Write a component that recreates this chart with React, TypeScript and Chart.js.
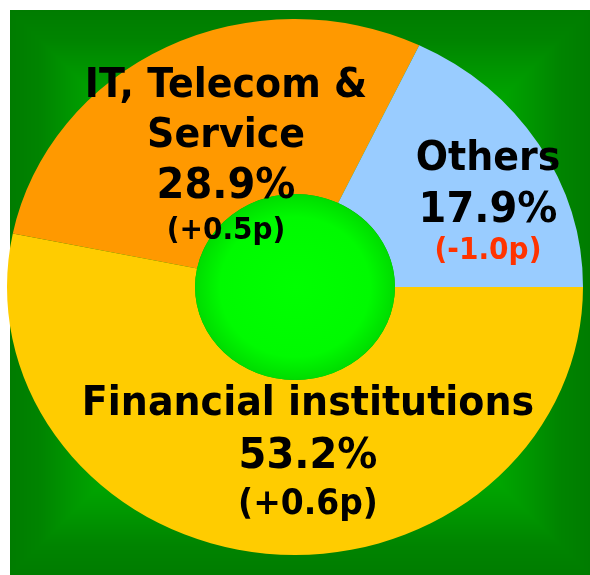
import React, { useEffect, useRef } from 'react';
import { Chart, registerables } from 'chart.js';

Chart.register(...registerables);

// ---- data ----
const categories = ['Financial institutions', 'IT, Telecom & Service', 'Others'];
const labelLines = [['Financial institutions'], ['IT, Telecom &', 'Service'], ['Others']];
const shares = [53.2, 28.9, 17.9];
const changes = [0.6, 0.5, -1.0];
const sliceColors = ['#ffcc00', '#ff9900', '#99ccff'];

// ---- layout (screen offsets from the pie centre) ----
const labelLayout = [
  { dx: 13, nameDy: [128], pctDy: 181, chgDy: 227, chgSize: 33 },
  { dx: -69, nameDy: [-190, -140], pctDy: -89, chgDy: -48, chgSize: 28 },
  { dx: 193, nameDy: [-117], pctDy: -65, chgDy: -28, chgSize: 28 },
];

const W = 590;
const H = 575;
const SY = 268 / 288; // vertical squash of the pie (ellipse)
const TEXT_SY = 1.08; // taller glyphs than DejaVu
const FONT = '"DejaVu Sans", sans-serif';

function makeBackground(): HTMLCanvasElement {
  const x0 = 10, y0 = 10, x1 = W, y1 = H;
  const w = x1 - x0, h = y1 - y0;
  const c = document.createElement('canvas');
  c.width = w;
  c.height = h;
  const g = c.getContext('2d')!;
  const img = g.createImageData(w, h);
  const stops = [
    [0, 0x7c],
    [30, 0x84],
    [60, 0x96],
    [95, 0xa8],
    [400, 0xae],
  ];
  for (let y = 0; y < h; y++) {
    for (let x = 0; x < w; x++) {
      const d = Math.min(x, w - 1 - x, y, h - 1 - y);
      let v = stops[stops.length - 1][1];
      for (let i = 0; i < stops.length - 1; i++) {
        if (d <= stops[i + 1][0]) {
          const t = (d - stops[i][0]) / (stops[i + 1][0] - stops[i][0]);
          v = stops[i][1] + t * (stops[i + 1][1] - stops[i][1]);
          break;
        }
      }
      const k = (y * w + x) * 4;
      img.data[k] = 0;
      img.data[k + 1] = Math.round(v);
      img.data[k + 2] = 0;
      img.data[k + 3] = 255;
    }
  }
  g.putImageData(img, 0, 0);
  return c;
}

function fmtChange(c: number) {
  return `(${c > 0 ? '+' : ''}${c.toFixed(1)}p)`;
}

function tallText(ctx: CanvasRenderingContext2D, text: string, x: number, y: number) {
  ctx.save();
  ctx.translate(x, y);
  ctx.scale(1, TEXT_SY);
  ctx.fillText(text, 0, 0);
  ctx.restore();
}

export default function App() {
  const ref = useRef<HTMLCanvasElement | null>(null);

  useEffect(() => {
    if (!ref.current) return;
    const bg = makeBackground();

    const plugin = {
      id: 'decor',
      beforeDraw(chart: any) {
        const ctx = chart.ctx;
        ctx.save();
        ctx.fillStyle = '#ffffff';
        ctx.fillRect(0, 0, W, H);
        ctx.drawImage(bg, 10, 10);
        ctx.restore();
      },
      beforeDatasetsDraw(chart: any) {
        const arc = chart.getDatasetMeta(0).data[0];
        const ctx = chart.ctx;
        ctx.save();
        ctx.translate(0, arc.y);
        ctx.scale(1, SY);
        ctx.translate(0, -arc.y);
      },
      afterDatasetsDraw(chart: any) {
        const ctx = chart.ctx;
        const arc = chart.getDatasetMeta(0).data[0];
        const cx = arc.x, cy = arc.y, r = arc.innerRadius;
        const grad = ctx.createRadialGradient(cx, cy, 0, cx, cy, r);
        grad.addColorStop(0, '#00ff00');
        grad.addColorStop(0.75, '#00fa00');
        grad.addColorStop(1, '#00dc00');
        ctx.beginPath();
        ctx.arc(cx, cy, r, 0, Math.PI * 2);
        ctx.fillStyle = grad;
        ctx.fill();
        ctx.restore();

        // labels (screen coordinates)
        ctx.save();
        ctx.textAlign = 'center';
        ctx.textBaseline = 'alphabetic';
        categories.forEach((_, i) => {
          const L = labelLayout[i];
          const x = cx + L.dx;
          ctx.fillStyle = '#000000';
          ctx.font = `bold 38px ${FONT}`;
          labelLines[i].forEach((line, j) => {
            tallText(ctx, line, x, cy + L.nameDy[j]);
          });
          ctx.font = `bold 40px ${FONT}`;
          tallText(ctx, `${shares[i].toFixed(1)}%`, x, cy + L.pctDy);
          ctx.font = `bold ${L.chgSize}px ${FONT}`;
          ctx.fillStyle = changes[i] < 0 ? '#ff3300' : '#000000';
          tallText(ctx, fmtChange(changes[i]), x, cy + L.chgDy);
        });
        ctx.restore();
      },
    };

    const chart = new Chart(ref.current, {
      type: 'doughnut',
      data: {
        labels: categories,
        datasets: [
          {
            data: shares,
            backgroundColor: sliceColors,
            borderWidth: 0,
          },
        ],
      },
      options: {
        responsive: false,
        animation: false,
        radius: 288,
        cutout: '34.7%',
        rotation: 90,
        layout: { padding: { left: 7, right: 7, top: 0, bottom: 1 } },
        plugins: {
          legend: { display: false },
          tooltip: { enabled: false },
        },
        events: [],
      } as any,
      plugins: [plugin],
    });
    return () => chart.destroy();
  }, []);

  return (
    <div
      style={{
        position: 'fixed',
        left: 0,
        top: 0,
        width: W,
        height: H,
        overflow: 'hidden',
        background: '#ffffff',
      }}
    >
      <canvas ref={ref} width={W} height={H} style={{ width: W, height: H, display: 'block' }} />
    </div>
  );
}
